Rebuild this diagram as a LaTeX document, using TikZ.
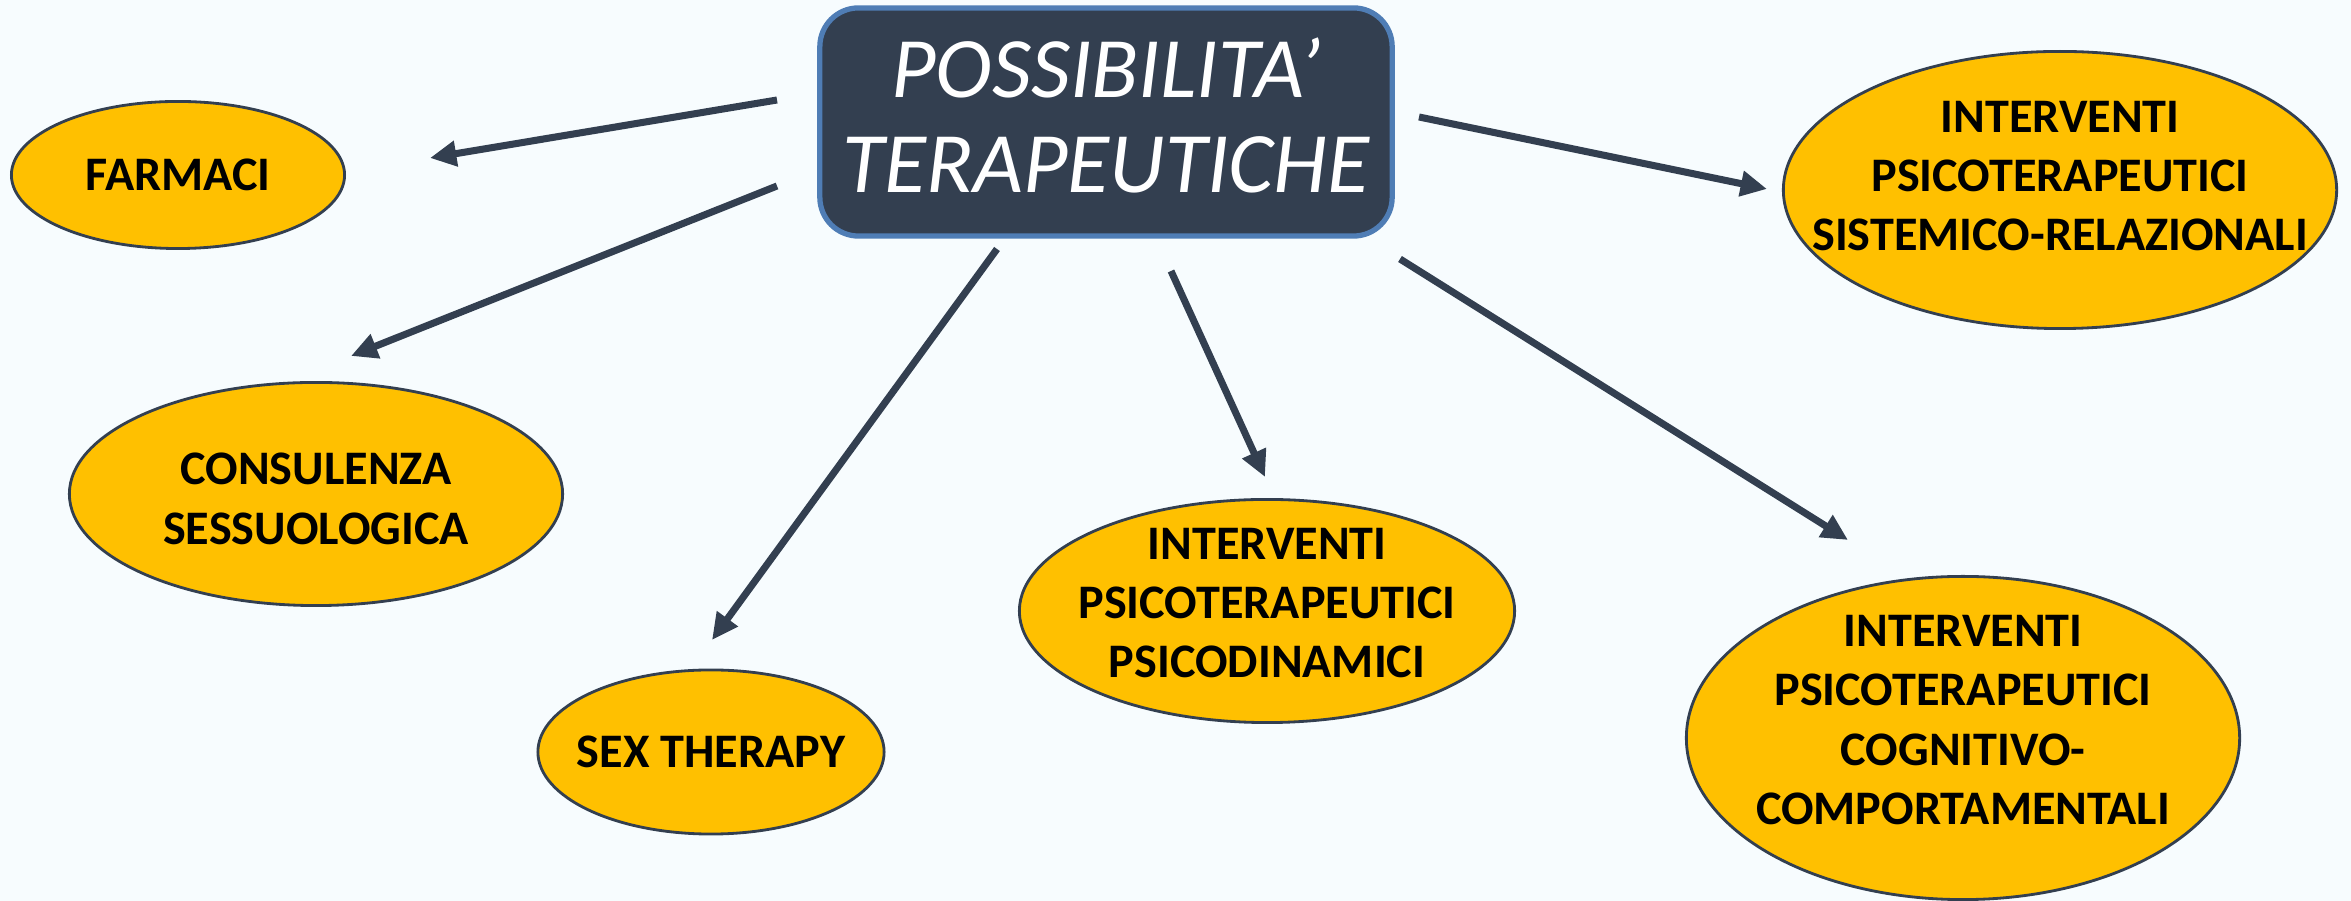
\documentclass[tikz,border=0pt]{standalone}
\usepackage{fontspec}
\setmainfont{Carlito}
\usetikzlibrary{shapes.geometric,arrows.meta}

\definecolor{sfondo}{HTML}{F7FCFE}
\definecolor{ardesia}{HTML}{333F50}
\definecolor{bordo}{HTML}{4F7DB5}
\definecolor{giallo}{HTML}{FFC000}

\tikzset{
	titolo/.style={draw=bordo, line width=1.5pt, fill=ardesia, rounded corners=11pt, text=white, align=center,
		inner sep=1pt, minimum width=5.72cm, minimum height=2.28cm, font=\fontsize{24.5}{27}\selectfont\itshape},
	ovale/.style={ellipse, draw=ardesia, thick, fill=giallo, inner sep=0pt},
	voce/.style={align=center, font=\fontsize{13.7}{16.9}\selectfont\bfseries},
	freccia/.style={-{Triangle[length=7.5pt,width=7pt]}, ardesia, line width=2pt}
}

\begin{document}
\begin{tikzpicture}[x=0.01cm, y=-0.01cm]
		\fill[sfondo]	(0, 0) rectangle (2351, 901);
		\useasboundingbox	(0, 0) rectangle (2351, 901);

		\node[titolo] (centro) at (1106, 122) {};
		\node[titolo, draw=none, fill=none, minimum height=0pt] at ([yshift=0.07cm]centro.center) {POSSIBILITA’\\TERAPEUTICHE};

		\node[ovale, minimum width=3.33cm, minimum height=1.47cm] (farmaci) at (178, 175) {};
		\node[ovale, minimum width=4.93cm, minimum height=2.23cm] (consulenza) at (316, 494) {};
		\node[ovale, minimum width=3.46cm, minimum height=1.64cm] (sex) at (711, 752) {};
		\node[ovale, minimum width=4.95cm, minimum height=2.23cm] (psicodin) at (1267, 611) {};
		\node[ovale, minimum width=5.53cm, minimum height=2.77cm] (sistemico) at (2060, 190) {};
		\node[ovale, minimum width=5.53cm, minimum height=3.23cm] (cognitivo) at (1963, 738) {};

		\node[voce] at (farmaci) {FARMACI};
		\node[voce] at ([yshift=-0.05cm]consulenza.center) {CONSULENZA\\SESSUOLOGICA};
		\node[voce] at (sex) {SEX THERAPY};
		\node[voce] at ([yshift=0.08cm]psicodin.center) {INTERVENTI\\PSICOTERAPEUTICI\\PSICODINAMICI};
		\node[voce] at ([yshift=0.14cm]sistemico.center) {INTERVENTI\\PSICOTERAPEUTICI\\SISTEMICO-RELAZIONALI};
		\node[voce] at ([yshift=0.18cm]cognitivo.center) {INTERVENTI\\PSICOTERAPEUTICI\\COGNITIVO-\\COMPORTAMENTALI};

		\coordinate (a1) at (777, 100);	\coordinate (b1) at (430, 158);
		\coordinate (a2) at (777, 186);	\coordinate (b2) at (351, 356);
		\coordinate (a3) at (997, 249);	\coordinate (b3) at (712, 640);
		\coordinate (a4) at (1171, 271);	\coordinate (b4) at (1265, 477);
		\coordinate (a5) at (1400, 259);	\coordinate (b5) at (1848, 540);
		\coordinate (a6) at (1419, 117);	\coordinate (b6) at (1767, 189);

		\draw[freccia]	(a1) -- (b1);
		\draw[freccia]	(a2) -- (b2);
		\draw[freccia]	(a3) -- (b3);
		\draw[freccia]	(a4) -- (b4);
		\draw[freccia]	(a5) -- (b5);
		\draw[freccia]	(a6) -- (b6);
	\end{tikzpicture}
\end{document}
